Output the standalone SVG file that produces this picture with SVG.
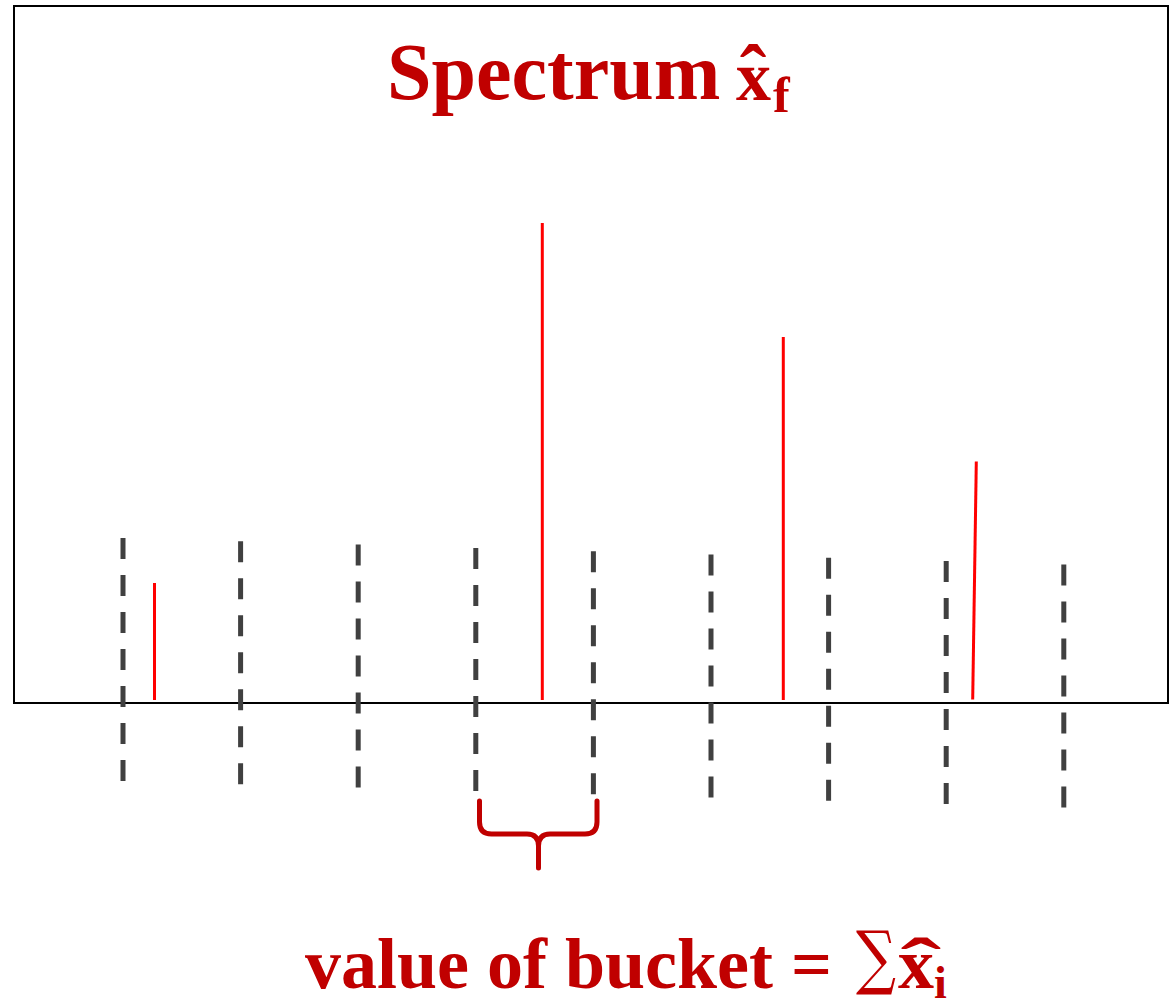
<svg xmlns="http://www.w3.org/2000/svg" width="1169" height="1002" viewBox="0 0 1169 1002">
  <style>
    .dash { stroke: #404040; stroke-width: 5; stroke-dasharray: 21 16; fill: none; }
    .peak { stroke: #ff0000; stroke-width: 3; fill: none; }
    .lbl { font-family: "Liberation Serif", "Times New Roman", serif; font-weight: bold; fill: #c00000; }
  </style>
  <rect x="0" y="0" width="1169" height="1002" fill="#ffffff"/>
  <g id="frame">
    <rect x="14" y="6" width="1154" height="697" fill="none" stroke="#000000" stroke-width="2"/>
  </g>
  <g id="title">
    <text class="lbl" x="387" y="99" font-size="80">Spectrum</text>
    <text class="lbl" x="736" y="100" font-size="70">x</text>
    <text class="lbl" x="753" y="101" font-size="80" text-anchor="middle">ˆ</text>
    <text class="lbl" x="773" y="112" font-size="50">f</text>
  </g>
  <g id="bucket-boundaries">
    <line class="dash" x1="123" y1="538" x2="123" y2="781"/>
    <line class="dash" x1="240.6" y1="541.3" x2="240.6" y2="784.3"/>
    <line class="dash" x1="358.2" y1="544.6" x2="358.2" y2="787.6"/>
    <line class="dash" x1="475.8" y1="547.9" x2="475.8" y2="790.9"/>
    <line class="dash" x1="593.4" y1="551.2" x2="593.4" y2="794.2"/>
    <line class="dash" x1="711" y1="554.5" x2="711" y2="797.5"/>
    <line class="dash" x1="828.6" y1="557.8" x2="828.6" y2="800.8"/>
    <line class="dash" x1="946.2" y1="561.1" x2="946.2" y2="804.1"/>
    <line class="dash" x1="1063.8" y1="564.4" x2="1063.8" y2="807.4"/>
  </g>
  <g id="peaks">
    <line class="peak" x1="154.5" y1="583" x2="154.5" y2="700"/>
    <line class="peak" x1="542.3" y1="223" x2="542.3" y2="700"/>
    <line class="peak" x1="783.3" y1="337" x2="783.3" y2="700"/>
    <line class="peak" x1="976.3" y1="461.5" x2="972.7" y2="699.5"/>
  </g>
  <g id="brace">
    <path d="M479.5,801 L479.5,822 Q479.5,834 491.5,834 L527,834 Q538.5,834 538.5,846 L538.5,868 M597,801 L597,822 Q597,834 585,834 L550,834 Q538.5,834 538.5,846" fill="none" stroke="#c00000" stroke-width="5" stroke-linecap="round"/>
  </g>
  <g id="bucket-label">
    <text class="lbl" x="305" y="988" font-size="72">value of bucket =</text>
    <text x="876" y="981" font-size="70" font-family="DejaVu Serif, serif" fill="#c00000" text-anchor="middle" transform="translate(876 0) scale(0.8 1) translate(-876 0)">∑</text>
    <text class="lbl" x="898" y="988" font-size="72">x</text>
    <text class="lbl" x="921" y="988" font-size="72" text-anchor="middle" transform="translate(921 0) scale(1.7 1) translate(-921 0)">ˆ</text>
    <text class="lbl" x="934" y="998" font-size="46">i</text>
  </g>
</svg>
